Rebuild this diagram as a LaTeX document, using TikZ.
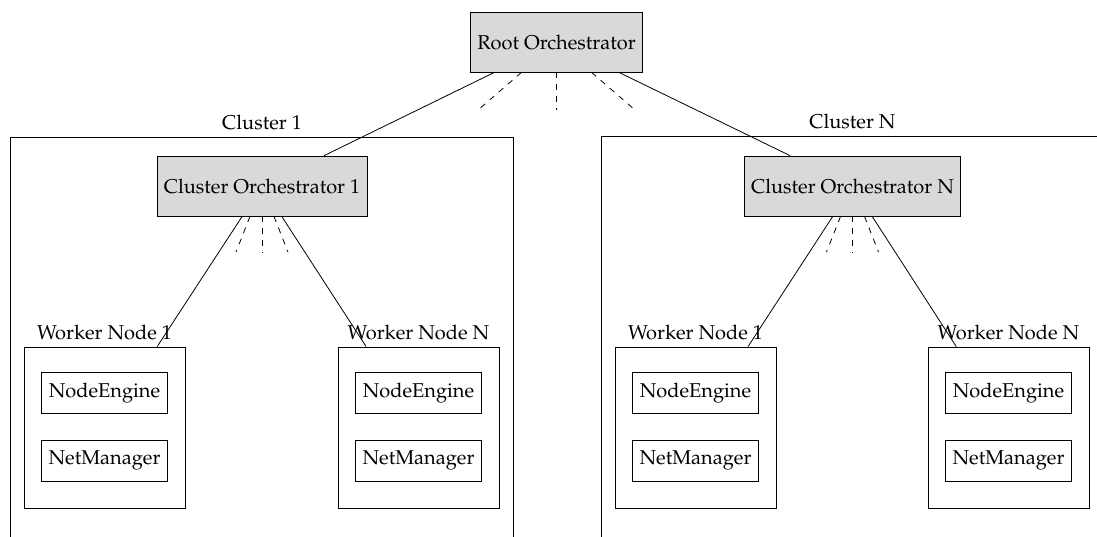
\documentclass[tikz,border=0pt]{standalone}
\usepackage[T1]{fontenc}
\usepackage{mathpazo}
\begin{document}
\begin{tikzpicture}[x=0.5pt,y=-0.5pt,
  orch/.style={draw, fill=gray!30, minimum height=30pt, inner sep=3.5pt},
  clusterbox/.style={draw, minimum width=251.5pt, minimum height=212pt, inner sep=0pt},
  workerbox/.style={draw, minimum width=80.5pt, minimum height=80.5pt, inner sep=0pt},
  compbox/.style={draw, minimum width=63pt, minimum height=20.5pt, inner sep=0pt},
  caption/.style={anchor=south, inner sep=3.33pt},
  link/.style={line width=0.4pt},
  spoke/.style={dashed, line width=0.4pt}]
\useasboundingbox (0,0) rectangle (1097,536);
\clip (0,0) rectangle (1097,536);

% cluster frames (they run past the lower edge)
\node[clusterbox] (c1) at (262,349) {};
\node[caption] (c1l) at (c1.north) {Cluster 1};
\node[clusterbox] (cN) at (852.5,348) {};
\node[caption] (cNl) at (cN.north) {Cluster N};

% orchestrators
\node[orch] (root) at (556.5,42) {Root Orchestrator};
\node[orch] (co1) at (262,186) {Cluster Orchestrator 1};
\node[orch] (coN) at (852.5,186) {Cluster Orchestrator N};

% worker nodes with their components
\foreach \n/\x in {a/104.5, b/418.5, c/695.5, d/1008.5}{
  \node[workerbox] (w\n) at (\x,427.5) {};
  \node[compbox] (ne\n) at (\x,393) {NodeEngine};
  \node[compbox] (nm\n) at (\x,460.5) {NetManager};
}
\node[caption] (wal) at (wa.north) {Worker Node 1};
\node[caption] (wbl) at (wb.north) {Worker Node N};
\node[caption] (wcl) at (wc.north) {Worker Node 1};
\node[caption] (wdl) at (wd.north) {Worker Node N};

% loose ends of the elided connections
\coordinate (r1) at (478,110);
\coordinate (r2) at (556.5,110);
\coordinate (r3) at (635,110);
\coordinate (s1) at (236,252);
\coordinate (s2) at (262,253);
\coordinate (s3) at (288,252);
\coordinate (t1) at (826.5,252);
\coordinate (t2) at (852.5,253);
\coordinate (t3) at (878.5,252);

% connectors
\draw[link] (root) -- (co1);
\draw[link] (root) -- (coN);
\draw[link] (co1) -- (wa);
\draw[link] (co1) -- (wb);
\draw[link] (coN) -- (wc);
\draw[link] (coN) -- (wd);
\foreach \e in {r1,r2,r3}{\draw[spoke] (root) -- (\e);}
\foreach \e in {s1,s2,s3}{\draw[spoke] (co1) -- (\e);}
\foreach \e in {t1,t2,t3}{\draw[spoke] (coN) -- (\e);}
\end{tikzpicture}
\end{document}
